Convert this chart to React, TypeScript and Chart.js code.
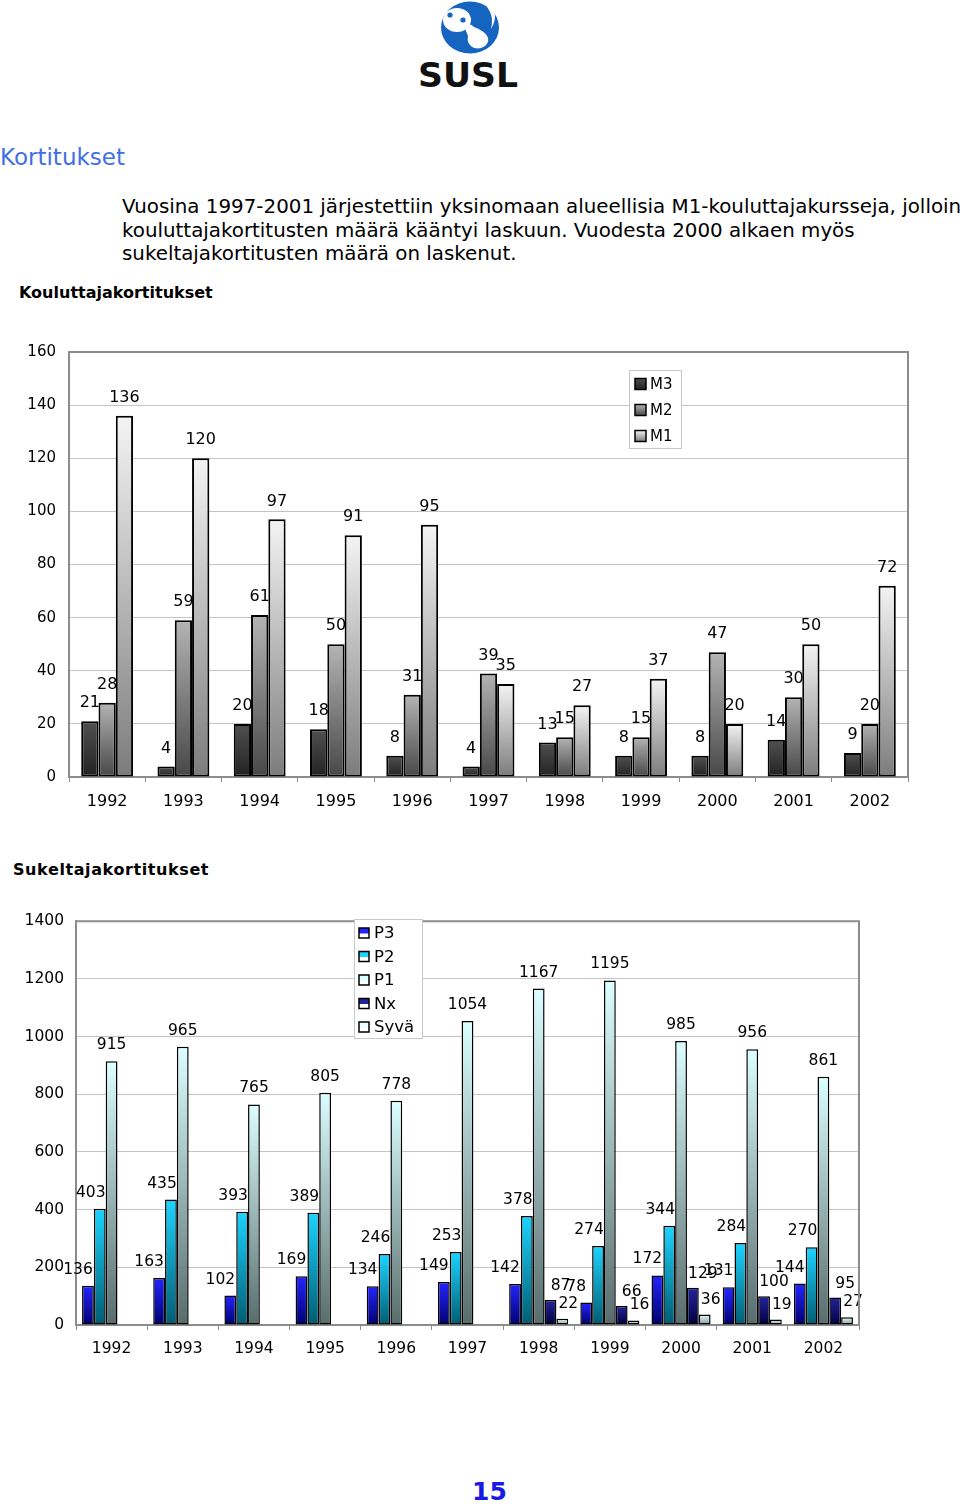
import React, { useEffect, useRef } from 'react';
import { Chart, registerables } from 'chart.js';

Chart.register(...registerables);

// ---------- data ----------
const years = ['1992', '1993', '1994', '1995', '1996', '1997', '1998', '1999', '2000', '2001', '2002'];

// Kouluttajakortitukset
const m3 = [21, 4, 20, 18, 8, 4, 13, 8, 8, 14, 9];
const m2 = [28, 59, 61, 50, 31, 39, 15, 15, 47, 30, 20];
const m1 = [136, 120, 97, 91, 95, 35, 27, 37, 20, 50, 72];

// Sukeltajakortitukset
const p3 = [136, 163, 102, 169, 134, 149, 142, 78, 172, 131, 144];
const p2 = [403, 435, 393, 389, 246, 253, 378, 274, 344, 284, 270];
const p1 = [915, 965, 765, 805, 778, 1054, 1167, 1195, 985, 956, 861];
const nx = [null, null, null, null, null, null, 87, 66, 129, 100, 95];
const syva = [null, null, null, null, null, null, 22, 16, 36, 19, 27];

const FONT = '"DejaVu Sans", Verdana, sans-serif';

type Stops = [number, string][];

function gradFill(stops: Stops) {
  const fallback = stops[0][1];
  return (ctx: any) => {
    const chart = ctx.chart;
    const ys = chart.scales && chart.scales.y;
    const v = ctx.raw;
    if (ctx.type !== 'data' || !ys || v == null || !chart.chartArea) return fallback;
    const top = ys.getPixelForValue(v);
    const bot = ys.getPixelForValue(0);
    if (!isFinite(top) || !isFinite(bot) || bot - top < 0.5) return fallback;
    const g = chart.ctx.createLinearGradient(0, top, 0, bot);
    stops.forEach(([o, c]) => g.addColorStop(o, c));
    return g;
  };
}

const valueLabels = {
  id: 'valueLabels',
  afterDatasetsDraw(chart: any, _a: any, opts: any) {
    const c = chart.ctx;
    c.save();
    c.font = `${opts.size}px ${FONT}`;
    c.fillStyle = '#000';
    c.textAlign = 'center';
    c.textBaseline = 'middle';
    chart.data.datasets.forEach((ds: any, i: number) => {
      const meta = chart.getDatasetMeta(i);
      const off = opts.offsets[i];
      meta.data.forEach((el: any, j: number) => {
        const v = ds.data[j];
        if (v == null) return;
        c.fillText(String(v), el.x + off[0], el.y - off[1]);
      });
    });
    c.restore();
  },
};

const frameAndLegend = {
  id: 'frameAndLegend',
  afterDraw(chart: any, _a: any, opts: any) {
    const c = chart.ctx;
    const a = chart.chartArea;
    c.save();
    // plot frame top / right
    c.strokeStyle = '#8c8c8c';
    c.lineWidth = 2;
    c.beginPath();
    c.moveTo(a.left, a.top);
    c.lineTo(a.right, a.top);
    c.lineTo(a.right, a.bottom);
    c.stroke();
    // legend box
    const L = opts.legend;
    c.fillStyle = '#fff';
    c.fillRect(L.x, L.y, L.w, L.h);
    c.strokeStyle = '#c8c8c8';
    c.lineWidth = 1;
    c.strokeRect(L.x + 0.5, L.y + 0.5, L.w, L.h);
    c.font = `${L.size}px ${FONT}`;
    c.textBaseline = 'middle';
    c.textAlign = 'left';
    L.items.forEach((it: any, i: number) => {
      const cy = L.firstY + i * L.step;
      const ms = L.marker;
      const mx = L.markerX;
      const my = cy - ms / 2;
      if (L.half) {
        c.fillStyle = '#fff';
        c.fillRect(mx, my, ms, ms);
        c.fillStyle = it.stops[0][1];
        c.fillRect(mx, my, ms, ms * 0.55);
      } else {
        const g = c.createLinearGradient(0, my, 0, my + ms);
        it.stops.forEach(([o, col]: [number, string]) => g.addColorStop(o, col));
        c.fillStyle = g;
        c.fillRect(mx, my, ms, ms);
      }
      c.strokeStyle = '#000';
      c.lineWidth = 1.5;
      c.strokeRect(mx, my, ms, ms);
      c.fillStyle = '#000';
      c.fillText(it.label, L.textX, cy + 1);
    });
    c.restore();
  },
};

const mStops: Stops[] = [
  [[0, '#505050'], [1, '#222222']],
  [[0, '#b4b4b4'], [1, '#474747']],
  [[0, '#f4f4f4'], [1, '#7c7c7c']],
];
const pStops: Stops[] = [
  [[0, '#2424ff'], [1, '#00006e']],
  [[0, '#1cd4ff'], [1, '#005c72']],
  [[0, '#dcffff'], [1, '#586c6c']],
  [[0, '#24249a'], [1, '#00003c']],
  [[0, '#eaffff'], [1, '#7a9898']],
];

function baseOptions(o: any) {
  return {
    responsive: false,
    maintainAspectRatio: false,
    animation: false,
    devicePixelRatio: 1,
    layout: { padding: o.padding },
    datasets: {
      bar: {
        categoryPercentage: o.catPct,
        barPercentage: 1,
        borderColor: '#000',
        borderWidth: o.bw,
        borderSkipped: false,
      },
    },
    scales: {
      x: {
        offset: true,
        grid: { drawOnChartArea: false, drawTicks: true, tickLength: 5, color: '#8c8c8c', offset: true },
        border: { display: true, color: '#8c8c8c', width: 2 },
        ticks: { color: '#000', font: { family: FONT, size: o.xSize }, padding: o.xPad, maxRotation: 0 },
        afterFit: (s: any) => { s.height = o.xH; },
      },
      y: {
        min: 0,
        max: o.max,
        ticks: {
          stepSize: o.step,
          color: '#000',
          font: { family: FONT, size: o.ySize },
          padding: o.yPad,
          callback: (v: any) => String(v),
        },
        grid: { color: '#c4c4c4', lineWidth: 1, drawTicks: false },
        border: { display: true, color: '#8c8c8c', width: 2 },
        afterFit: (s: any) => { s.width = o.yW; },
      },
    },
    plugins: {
      legend: { display: false },
      tooltip: { enabled: false },
      valueLabels: { size: o.labelSize, offsets: o.offsets },
      frameAndLegend: { legend: o.legend },
    },
  };
}

export default function App() {
  const c1 = useRef<HTMLCanvasElement | null>(null);
  const c2 = useRef<HTMLCanvasElement | null>(null);

  useEffect(() => {
    Chart.defaults.font.family = FONT;
    const mSeries = [
      { label: 'M3', data: m3 },
      { label: 'M2', data: m2 },
      { label: 'M1', data: m1 },
    ];
    const chart1 = new Chart(c1.current as HTMLCanvasElement, {
      type: 'bar',
      data: {
        labels: years,
        datasets: mSeries.map((s, i) => ({ label: s.label, data: s.data, backgroundColor: gradFill(mStops[i]) })) as any,
      },
      options: baseOptions({
        padding: { left: 0, right: 52, top: 12, bottom: 3 },
        catPct: 0.68,
        bw: 2,
        xSize: 16,
        ySize: 15,
        xPad: 10,
        yPad: 13,
        xH: 40,
        yW: 69,
        max: 160,
        step: 20,
        labelSize: 16,
        offsets: [[0, 18], [0, 18], [0, 18]],
        legend: {
          x: 629, y: 40, w: 52, h: 78, size: 15, marker: 11, markerX: 635, textX: 650,
          firstY: 54, step: 26, half: false,
          items: mSeries.map((s, i) => ({ label: s.label, stops: mStops[i] })),
        },
      }) as any,
      plugins: [valueLabels as any, frameAndLegend as any],
    });

    const pSeries = [
      { label: 'P3', data: p3 },
      { label: 'P2', data: p2 },
      { label: 'P1', data: p1 },
      { label: 'Nx', data: nx },
      { label: 'Syvä', data: syva },
    ];
    const chart2 = new Chart(c2.current as HTMLCanvasElement, {
      type: 'bar',
      data: {
        labels: years,
        datasets: pSeries.map((s, i) => ({ label: s.label, data: s.data, backgroundColor: gradFill(pStops[i]) })) as any,
      },
      options: baseOptions({
        padding: { left: 0, right: 101, top: 21, bottom: 15 },
        catPct: 0.83,
        bw: 1.5,
        xSize: 15.5,
        ySize: 15.5,
        xPad: 10,
        yPad: 12,
        xH: 40,
        yW: 76,
        max: 1400,
        step: 200,
        labelSize: 15.5,
        offsets: [[-10, 16], [-9, 16], [0, 16], [10, 14], [6, 15]],
        legend: {
          x: 354, y: 19, w: 68, h: 119, size: 16.5, marker: 10, markerX: 359, textX: 374,
          firstY: 33, step: 23.5, half: true,
          items: pSeries.map((s, i) => ({ label: s.label, stops: pStops[i] })),
        },
      }) as any,
      plugins: [valueLabels as any, frameAndLegend as any],
    });

    return () => {
      chart1.destroy();
      chart2.destroy();
    };
  }, []);

  const abs = (x: number, y: number, extra: any = {}) => ({ position: 'absolute' as const, left: x, top: y, whiteSpace: 'nowrap' as const, ...extra });

  return (
    <div style={{ position: 'absolute', left: 0, top: 0, width: 960, height: 1508, background: '#fff', fontFamily: FONT, color: '#000', overflow: 'hidden' }}>
      <svg style={{ position: 'absolute', left: 0, top: 0 }} width={960} height={95}>
        <ellipse cx={470} cy={27.5} rx={29} ry={26} fill="#1565c0" />
        <ellipse cx={457} cy={20} rx={14} ry={12} fill="#fff" />
        <path d="M 464 26 Q 470 22 474 27 Q 490 33 488 42 Q 484 50 474 48 Q 466 44 468 36 Z" fill="#fff" />
        <path d="M 486 2 Q 501 12 491 29 Q 495 13 483 3 Z" fill="#fff" />
        <circle cx={450} cy={15} r={2.6} fill="#1565c0" />
        <circle cx={463} cy={20} r={2.6} fill="#1565c0" />
        <text x={418} y={87} fontFamily={FONT} fontWeight="bold" fontSize={33} textLength={100} lengthAdjust="spacingAndGlyphs" fill="#111">SUSL</text>
      </svg>

      <div style={abs(0, 143.7, { fontSize: 23, color: '#3f6fe6', lineHeight: 'normal' })}>Kortitukset</div>

      <div style={abs(122, 195, { fontSize: 19.85, lineHeight: '23.5px' })}>
        <div>Vuosina 1997-2001 järjestettiin yksinomaan alueellisia M1-kouluttajakursseja, jolloin</div>
        <div>kouluttajakortitusten määrä kääntyi laskuun. Vuodesta 2000 alkaen myös</div>
        <div>sukeltajakortitusten määrä on laskenut.</div>
      </div>

      <div style={abs(19, 282.8, { fontSize: 16, fontWeight: 'bold', lineHeight: 'normal' })}>Kouluttajakortitukset</div>

      <canvas ref={c1} width={960} height={490} style={{ position: 'absolute', left: 0, top: 330, width: 960, height: 490 }} />

      <div style={abs(13, 859.8, { fontSize: 16, fontWeight: 'bold', letterSpacing: '0.6px', lineHeight: 'normal' })}>Sukeltajakortitukset</div>

      <canvas ref={c2} width={960} height={480} style={{ position: 'absolute', left: 0, top: 900, width: 960, height: 480 }} />

      <div style={abs(472, 1477, { fontSize: 25, fontWeight: 'bold', color: '#1a1ae6', lineHeight: 'normal' })}>15</div>
    </div>
  );
}
